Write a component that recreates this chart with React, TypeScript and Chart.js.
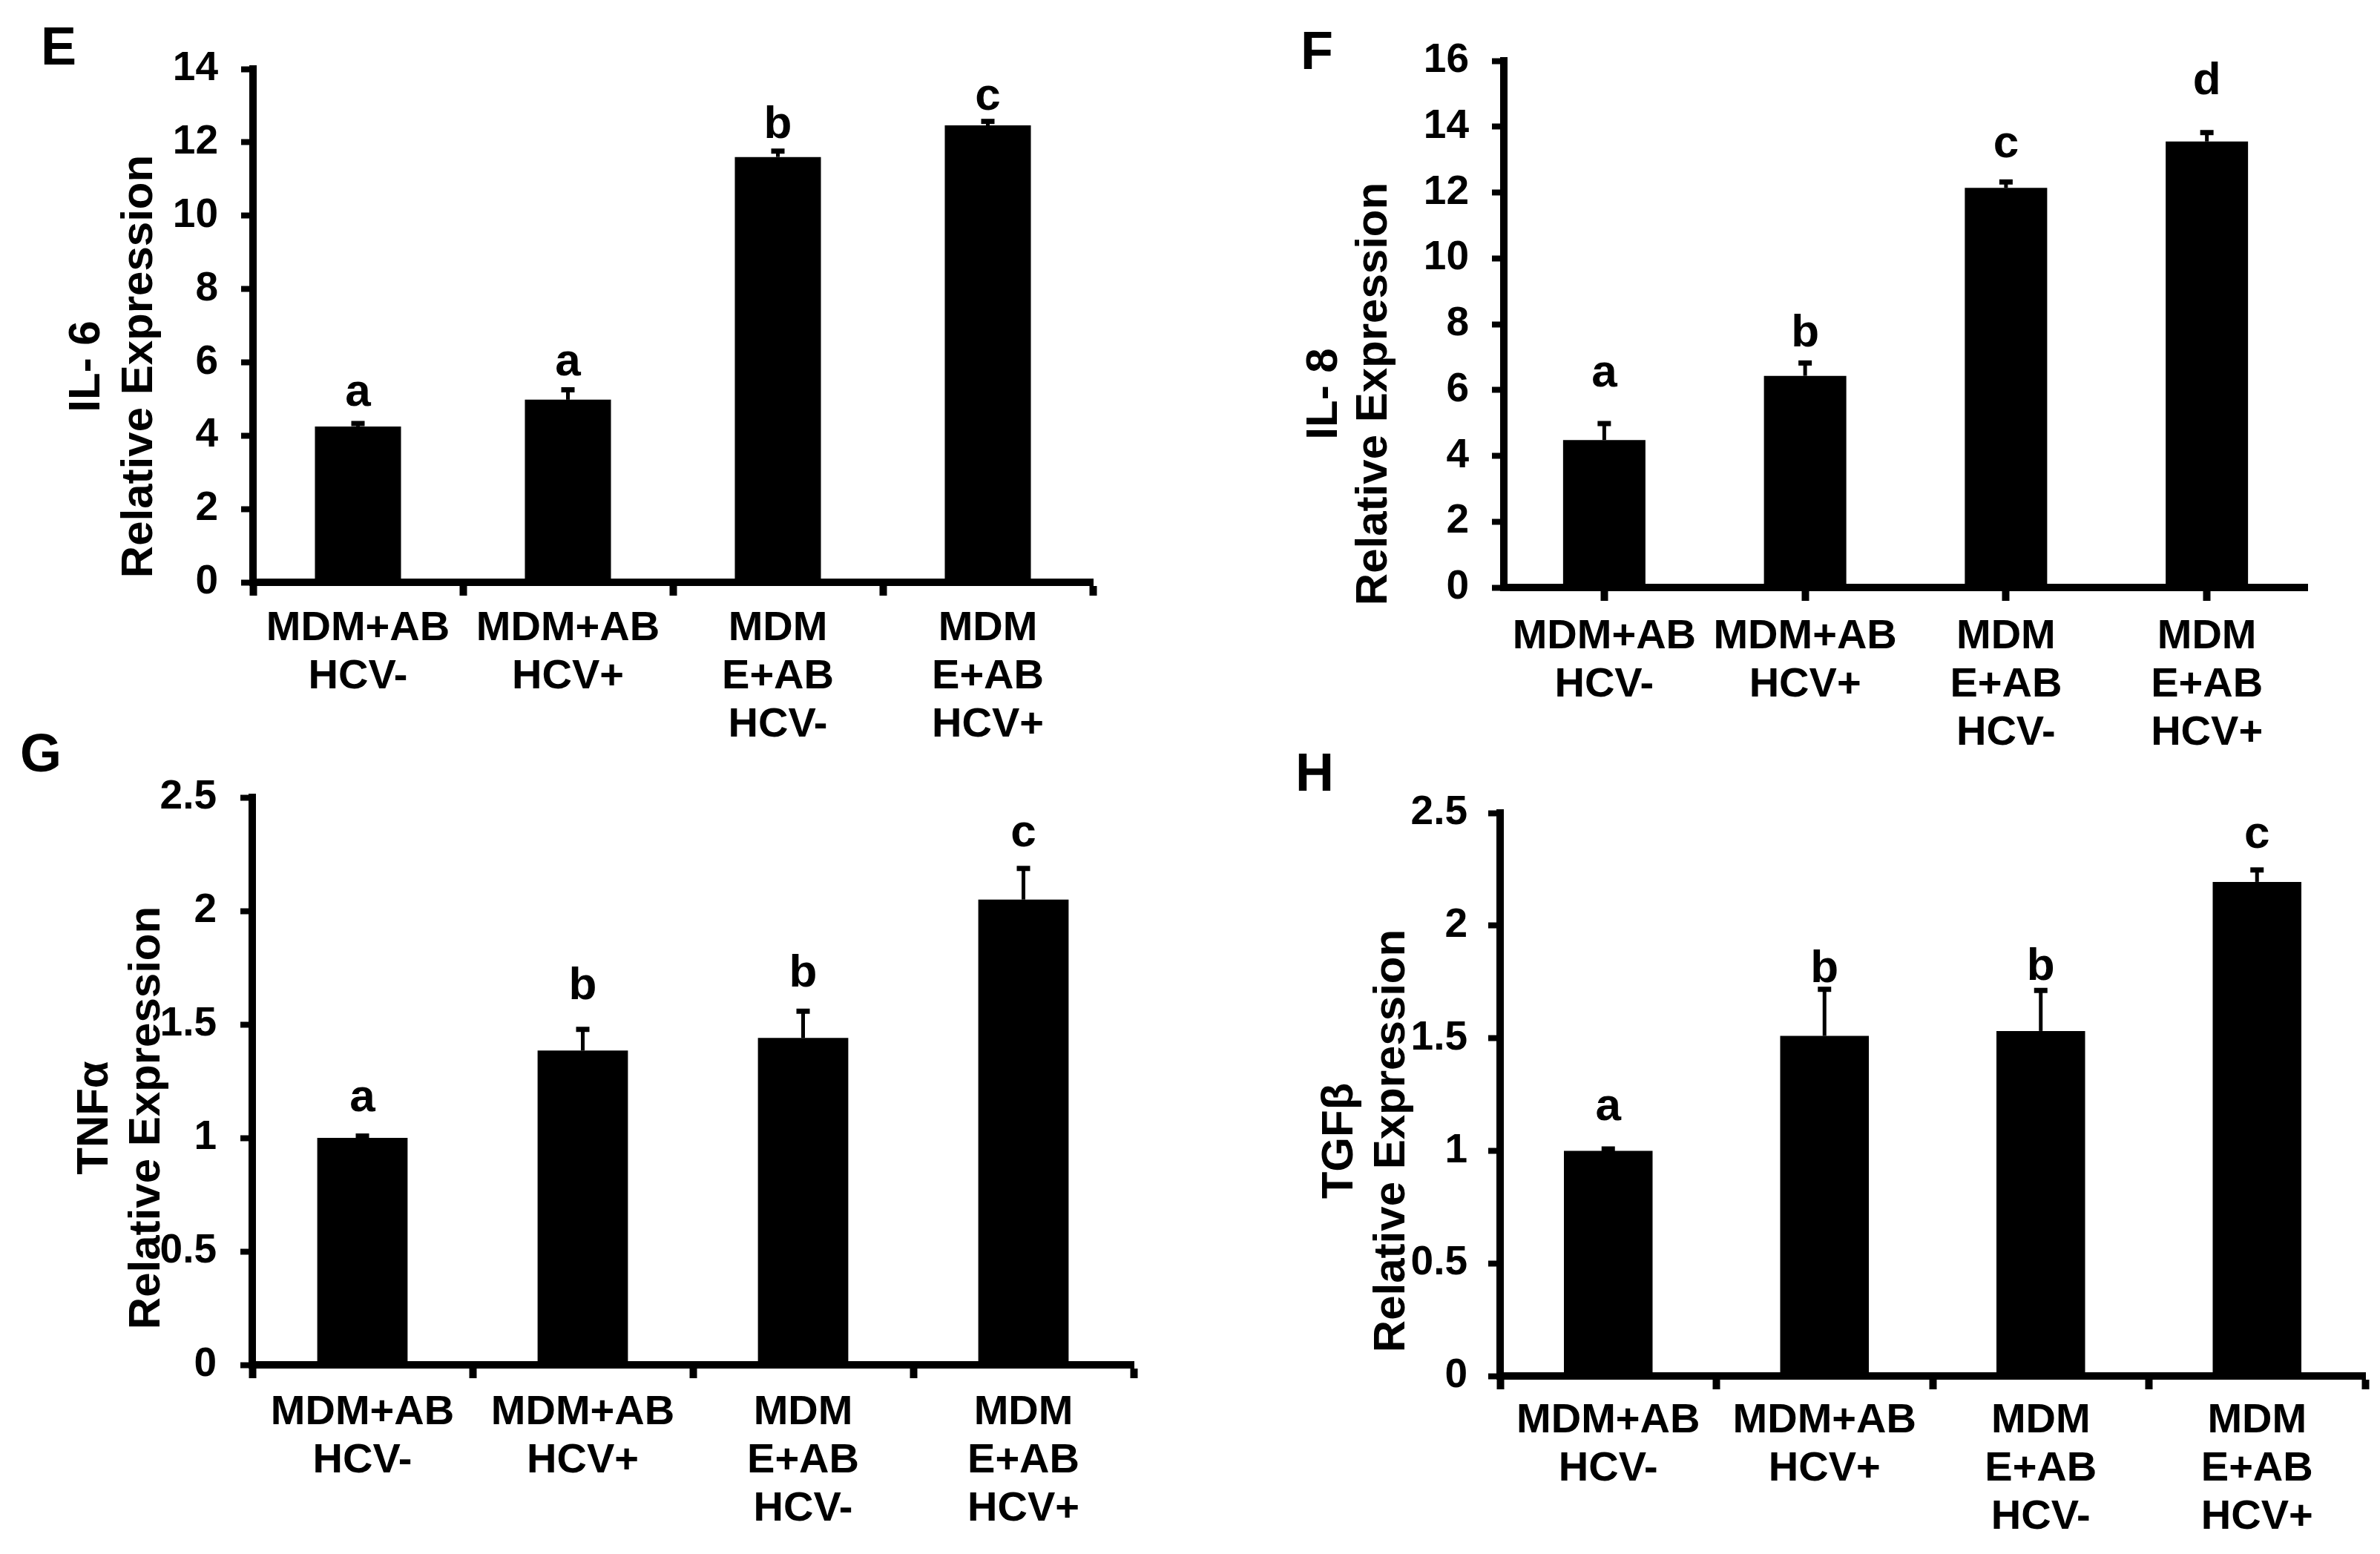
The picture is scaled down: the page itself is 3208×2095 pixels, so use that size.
import { useEffect, useRef } from "react";
import {
    Chart,
    BarController,
    BarElement,
    CategoryScale,
    LinearScale,
} from "chart.js";

Chart.register(BarController, BarElement, CategoryScale, LinearScale);

const FAMILIA = '"Liberation Sans", Arial, Helvetica, sans-serif';

// categorias del eje x (multilinea)
const categorias = [
    ["MDM+AB", "HCV-"],
    ["MDM+AB", "HCV+"],
    ["MDM", "E+AB", "HCV-"],
    ["MDM", "E+AB", "HCV+"],
];

// E - IL-6
const il6Valores = [4.25, 4.98, 11.6, 12.46];
const il6Error = [0.08, 0.27, 0.16, 0.11];
const il6Letras = ["a", "a", "b", "c"];

// F - IL-8
const il8Valores = [4.48, 6.43, 12.14, 13.55];
const il8Error = [0.5, 0.39, 0.18, 0.27];
const il8Letras = ["a", "b", "c", "d"];

// G - TNFa
const tnfValores = [1.0, 1.385, 1.44, 2.05];
const tnfError = [0.008, 0.093, 0.118, 0.137];
const tnfLetras = ["a", "b", "b", "c"];

// H - TGFb
const tgfValores = [1.0, 1.51, 1.532, 2.194];
const tgfError = [0.008, 0.207, 0.18, 0.053];
const tgfLetras = ["a", "b", "b", "c"];

interface Caja {
    left: number;
    top: number;
    width: number;
    height: number;
}

interface Area {
    l: number;
    t: number;
    r: number;
    b: number;
}

interface PanelProps {
    letra: string;
    letraPos: [number, number];
    titulo: string[];
    tituloX: number[];
    tituloY: number;
    valores: number[];
    errores: number[];
    letras: string[];
    gapLetras: number[];
    yMax: number;
    yPaso: number;
    caja: Caja;
    area: Area;
    ticksEnCentro: boolean;
    padX: number;
    padY: number;
}

const Panel = (p: PanelProps) => {
    const canvasRef = useRef<HTMLCanvasElement>(null);
    const chartRef = useRef<Chart | null>(null);

    useEffect(() => {
        if (!canvasRef.current) return;
        const { caja, area } = p;
        const anchoY = area.l - caja.left;
        const altoX = caja.top + caja.height - area.b;

        const anotaciones = {
            id: "anotaciones",
            afterDatasetsDraw(chart: Chart) {
                const ctx = chart.ctx;
                const y = chart.scales.y;
                const meta = chart.getDatasetMeta(0);
                ctx.save();
                ctx.strokeStyle = "#000";
                ctx.fillStyle = "#000";
                meta.data.forEach((bar: any, i: number) => {
                    const y0 = y.getPixelForValue(p.valores[i]);
                    const y1 = y.getPixelForValue(p.valores[i] + p.errores[i]);
                    // barra de error (solo hacia arriba)
                    ctx.lineWidth = 5;
                    ctx.beginPath();
                    ctx.moveTo(bar.x, y0);
                    ctx.lineTo(bar.x, y1);
                    ctx.stroke();
                    ctx.lineWidth = 7;
                    ctx.beginPath();
                    ctx.moveTo(bar.x - 9, y1);
                    ctx.lineTo(bar.x + 9, y1);
                    ctx.stroke();
                    // letra de significancia
                    ctx.font = `bold 62px ${FAMILIA}`;
                    ctx.textAlign = "center";
                    ctx.textBaseline = "alphabetic";
                    ctx.fillText(p.letras[i], bar.x, y1 - p.gapLetras[i]);
                });
                ctx.restore();
            },
            afterDraw(chart: Chart) {
                const ctx = chart.ctx;
                ctx.save();
                ctx.fillStyle = "#000";
                ctx.textBaseline = "alphabetic";
                // letra del panel
                ctx.font = `bold 72px ${FAMILIA}`;
                ctx.textAlign = "left";
                ctx.fillText(p.letra, p.letraPos[0] - caja.left, p.letraPos[1] - caja.top);
                // titulo del eje y, rotado
                ctx.font = `bold 60px ${FAMILIA}`;
                ctx.textAlign = "center";
                p.titulo.forEach((t, i) => {
                    ctx.save();
                    ctx.translate(p.tituloX[i] - caja.left, p.tituloY - caja.top);
                    ctx.rotate(-Math.PI / 2);
                    ctx.fillText(t, 0, 0);
                    ctx.restore();
                });
                ctx.restore();
            },
        };

        const config = {
            type: "bar",
            data: {
                labels: categorias,
                datasets: [
                    {
                        data: p.valores,
                        backgroundColor: "#000",
                        borderWidth: 0,
                        barPercentage: 0.41,
                        categoryPercentage: 1,
                    },
                ],
            },
            options: {
                responsive: false,
                animation: false,
                devicePixelRatio: 1,
                layout: {
                    autoPadding: false,
                    padding: {
                        left: 0,
                        top: area.t - caja.top,
                        right: caja.left + caja.width - area.r,
                        bottom: 0,
                    },
                },
                plugins: {
                    legend: { display: false },
                    title: { display: false },
                    tooltip: { enabled: false },
                },
                scales: {
                    x: {
                        offset: true,
                        grid: {
                            offset: !p.ticksEnCentro,
                            drawOnChartArea: false,
                            drawTicks: true,
                            tickLength: 18,
                            tickWidth: 10,
                            tickColor: "#000",
                            color: "#000",
                        },
                        border: { display: true, color: "#000", width: 10 },
                        ticks: {
                            color: "#000",
                            autoSkip: false,
                            maxRotation: 0,
                            minRotation: 0,
                            padding: p.padX,
                            font: { family: FAMILIA, size: 56, weight: "bold", lineHeight: 1.16 },
                        },
                        afterFit: (s: any) => {
                            s.height = altoX;
                        },
                    },
                    y: {
                        min: 0,
                        max: p.yMax,
                        grid: {
                            drawOnChartArea: false,
                            drawTicks: true,
                            tickLength: 16,
                            tickWidth: 8,
                            tickColor: "#000",
                            color: "#000",
                        },
                        border: { display: true, color: "#000", width: 10 },
                        ticks: {
                            stepSize: p.yPaso,
                            color: "#000",
                            padding: p.padY,
                            font: { family: FAMILIA, size: 55, weight: "bold" },
                            callback: (v: any) => String(Number(v)),
                        },
                        afterFit: (s: any) => {
                            s.width = anchoY;
                        },
                    },
                },
            },
            plugins: [anotaciones],
        };

        if (chartRef.current) {
            chartRef.current.destroy();
        }
        const ctx = canvasRef.current.getContext("2d");
        if (ctx) {
            chartRef.current = new Chart(ctx, config as any);
        }

        return () => {
            if (chartRef.current) {
                chartRef.current.destroy();
                chartRef.current = null;
            }
        };
    }, [p]);

    return (
        <div
            style={{
                position: "absolute",
                left: p.caja.left,
                top: p.caja.top,
                width: p.caja.width,
                height: p.caja.height,
            }}
        >
            <canvas ref={canvasRef} width={p.caja.width} height={p.caja.height} />
        </div>
    );
};

const panelE: PanelProps = {
    letra: "E",
    letraPos: [55, 87],
    titulo: ["IL- 6", "Relative Expression"],
    tituloX: [134, 205],
    tituloY: 494,
    valores: il6Valores,
    errores: il6Error,
    letras: il6Letras,
    gapLetras: [24, 20, 18, 16],
    yMax: 14,
    yPaso: 2,
    caja: { left: 0, top: 0, width: 1560, height: 1040 },
    area: { l: 341, t: 93, r: 1473, b: 785 },
    ticksEnCentro: false,
    padX: 12,
    padY: 31,
};

const panelF: PanelProps = {
    letra: "F",
    letraPos: [1753, 93],
    titulo: ["IL- 8", "Relative Expression"],
    tituloX: [1802, 1869],
    tituloY: 531,
    valores: il8Valores,
    errores: il8Error,
    letras: il8Letras,
    gapLetras: [50, 22, 33, 52],
    yMax: 16,
    yPaso: 2,
    caja: { left: 1600, top: 0, width: 1608, height: 1040 },
    area: { l: 2027, t: 82, r: 3110, b: 792 },
    ticksEnCentro: true,
    padX: 16,
    padY: 31,
};

const panelG: PanelProps = {
    letra: "G",
    letraPos: [27, 1040],
    titulo: ["TNFα", "Relative Expression"],
    tituloX: [145, 215],
    tituloY: 1507,
    valores: tnfValores,
    errores: tnfError,
    letras: tnfLetras,
    gapLetras: [34, 41, 33, 30],
    yMax: 2.5,
    yPaso: 0.5,
    caja: { left: 0, top: 970, width: 1600, height: 1125 },
    area: { l: 340, t: 1075, r: 1528, b: 1840 },
    ticksEnCentro: false,
    padX: 14,
    padY: 32,
};

const panelH: PanelProps = {
    letra: "H",
    letraPos: [1746, 1066],
    titulo: ["TGFβ", "Relative Expression"],
    tituloX: [1823, 1893],
    tituloY: 1538,
    valores: tgfValores,
    errores: tgfError,
    letras: tgfLetras,
    gapLetras: [39, 10, 14, 30],
    yMax: 2.5,
    yPaso: 0.5,
    caja: { left: 1600, top: 970, width: 1608, height: 1125 },
    area: { l: 2022, t: 1096, r: 3188, b: 1855 },
    ticksEnCentro: false,
    padX: 10,
    padY: 28,
};

export default function App() {
    return (
        <div
            style={{
                position: "absolute",
                left: 0,
                top: 0,
                width: 3208,
                height: 2095,
                background: "#fff",
                overflow: "hidden",
            }}
        >
            <Panel {...panelE} />
            <Panel {...panelF} />
            <Panel {...panelG} />
            <Panel {...panelH} />
        </div>
    );
}
